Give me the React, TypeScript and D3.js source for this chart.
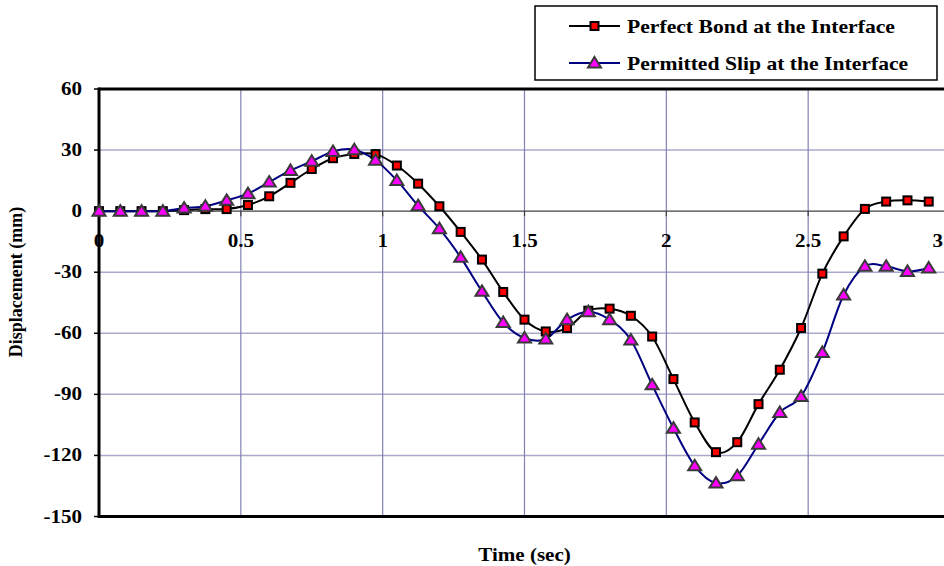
import React from "react";
import * as d3 from "d3";

const times: number[] = Array.from({ length: 40 }, (_, i) => +(i * 0.075).toFixed(3));

const perfectBond: number[] = [
  0, 0, 0, 0, 0.5, 1, 1, 3, 7.3, 13.9,
  20.7, 26, 28.1, 28, 22.4, 13.5, 2.4, -10.2, -23.8, -39.7,
  -53.3, -59.1, -57.4, -48.9, -47.9, -51.4, -61.6, -82.5, -103.8, -118.4,
  -113.5, -94.8, -77.9, -57.4, -30.7, -12.4, 1.1, 4.7, 5.3, 4.7,
];

const permittedSlip: number[] = [
  0, 0, 0, 0, 1.5, 2.4, 5.3, 8.6, 14.3, 20,
  24.5, 29.3, 30.2, 25, 15.1, 2.7, -8.6, -22.7, -39.4, -54.7,
  -62.3, -62.8, -53.3, -49.4, -53.3, -63.3, -85.3, -106.6, -125.1, -133.6,
  -130, -114.5, -98.9, -91, -69.4, -41.2, -27.1, -27.1, -29.6, -27.9,
];

const xTicks: number[] = [0, 0.5, 1, 1.5, 2, 2.5, 3];
const yTicks: number[] = [60, 30, 0, -30, -60, -90, -120, -150];
const seriesNames: string[] = ["Perfect Bond at the Interface", "Permitted Slip at the Interface"];

const W = 944;
const H = 566;
const left = 99;
const right = 950;
const top = 89;
const bottom = 516.5;
const SX = 1.17;
const FONT = "'Liberation Serif', 'Times New Roman', serif";

export default function App() {
  const x = d3.scaleLinear().domain([0, 3]).range([left, right]);
  const y = d3.scaleLinear().domain([-150, 60]).range([bottom, top]);

  const line = d3
    .line<[number, number]>()
    .x((d) => x(d[0]))
    .y((d) => y(d[1]))
    .curve(d3.curveCatmullRom.alpha(0));

  const bondPts: [number, number][] = times.map((t, i) => [t, perfectBond[i]]);
  const slipPts: [number, number][] = times.map((t, i) => [t, permittedSlip[i]]);

  const square = (cx: number, cy: number, key: any) => (
    <rect key={key} x={cx - 4} y={cy - 4} width={8} height={8} fill="#ff0000" stroke="#000" strokeWidth={2} />
  );
  const tri = (cx: number, cy: number, key: any) => (
    <path
      key={key}
      d={`M${cx},${cy - 6} L${cx + 6.5},${cy + 4.5} L${cx - 6.5},${cy + 4.5} Z`}
      fill="#ff00ff"
      stroke="#3a3a3a"
      strokeWidth={2}
      strokeLinejoin="miter"
    />
  );

  const txt = (
    s: string,
    tx: number,
    ty: number,
    anchor: string,
    size = 18,
    key?: any
  ) => (
    <text
      key={key}
      transform={`translate(${tx},${ty}) scale(${SX},1)`}
      textAnchor={anchor as any}
      fontFamily={FONT}
      fontWeight="bold"
      fontSize={size}
      fill="#000"
    >
      {s}
    </text>
  );

  return (
    <svg
      width={W}
      height={H}
      style={{ position: "absolute", left: 0, top: 0, background: "#fff" }}
    >
      <rect x={0} y={0} width={W} height={H} fill="#fff" />
      {/* horizontal gridlines */}
      {yTicks
        .filter((v) => v !== 60 && v !== -150 && v !== 0)
        .map((v) => (
          <line key={"hg" + v} x1={left} x2={right} y1={y(v)} y2={y(v)} stroke="#a9a9cc" strokeWidth={1.5} />
        ))}
      {/* vertical gridlines */}
      {xTicks
        .filter((v) => v !== 0)
        .map((v) => (
          <line key={"vg" + v} x1={x(v)} x2={x(v)} y1={top} y2={bottom} stroke="#8080b4" strokeWidth={1.2} />
        ))}
      {/* zero axis */}
      <line x1={left} x2={right} y1={y(0)} y2={y(0)} stroke="#404040" strokeWidth={1.2} />
      {xTicks.map((v) => (
        <line key={"xt" + v} x1={x(v)} x2={x(v)} y1={y(0)} y2={y(0) + 5} stroke="#404040" strokeWidth={1.2} />
      ))}
      {yTicks.map((v) => (
        <line key={"yt" + v} x1={left - 5} x2={left} y1={y(v)} y2={y(v)} stroke="#000" strokeWidth={1.5} />
      ))}
      {/* frame */}
      <line x1={left} x2={right} y1={top} y2={top} stroke="#000" strokeWidth={3} />
      <line x1={left} x2={right} y1={bottom} y2={bottom} stroke="#000" strokeWidth={3} />
      <line x1={left} x2={left} y1={top - 1.5} y2={bottom + 1.5} stroke="#000" strokeWidth={3} />
      <line x1={right} x2={right} y1={top} y2={bottom} stroke="#000" strokeWidth={3} />

      {/* series */}
      <path d={line(bondPts) || ""} fill="none" stroke="#000" strokeWidth={2} />
      <path d={line(slipPts) || ""} fill="none" stroke="#000080" strokeWidth={2} />
      {bondPts.map((p, i) => square(x(p[0]), y(p[1]), "s" + i))}
      {slipPts.map((p, i) => tri(x(p[0]), y(p[1]), "t" + i))}

      {/* tick labels */}
      {yTicks.map((v) => txt(String(v), left - 17, y(v) + 6, "end", 18, "yl" + v))}
      {xTicks.map((v) =>
        x(v) + 7 > W
          ? txt(String(v), W - 1, y(0) + 36, "end", 18, "xl" + v)
          : txt(String(v), x(v), y(0) + 36, "middle", 18, "xl" + v)
      )}

      {/* axis titles */}
      {txt("Time (sec)", (left + right) / 2, 561, "middle", 18)}
      <text
        transform={`translate(22,282) rotate(-90)`}
        textAnchor="middle"
        fontFamily={FONT}
        fontWeight="bold"
        fontSize={18}
      >
        Displacement (mm)
      </text>

      {/* legend */}
      <rect x={535} y={6} width={402} height={74} fill="#fff" stroke="#000" strokeWidth={1.5} />
      <line x1={569} x2={620} y1={26} y2={26} stroke="#000" strokeWidth={2} />
      {square(594.5, 26, "ls")}
      {txt(seriesNames[0], 627, 33, "start", 18.5)}
      <line x1={569} x2={620} y1={63} y2={63} stroke="#000080" strokeWidth={2} />
      {tri(594.5, 63, "lt")}
      {txt(seriesNames[1], 627, 70, "start", 18.5)}
    </svg>
  );
}
